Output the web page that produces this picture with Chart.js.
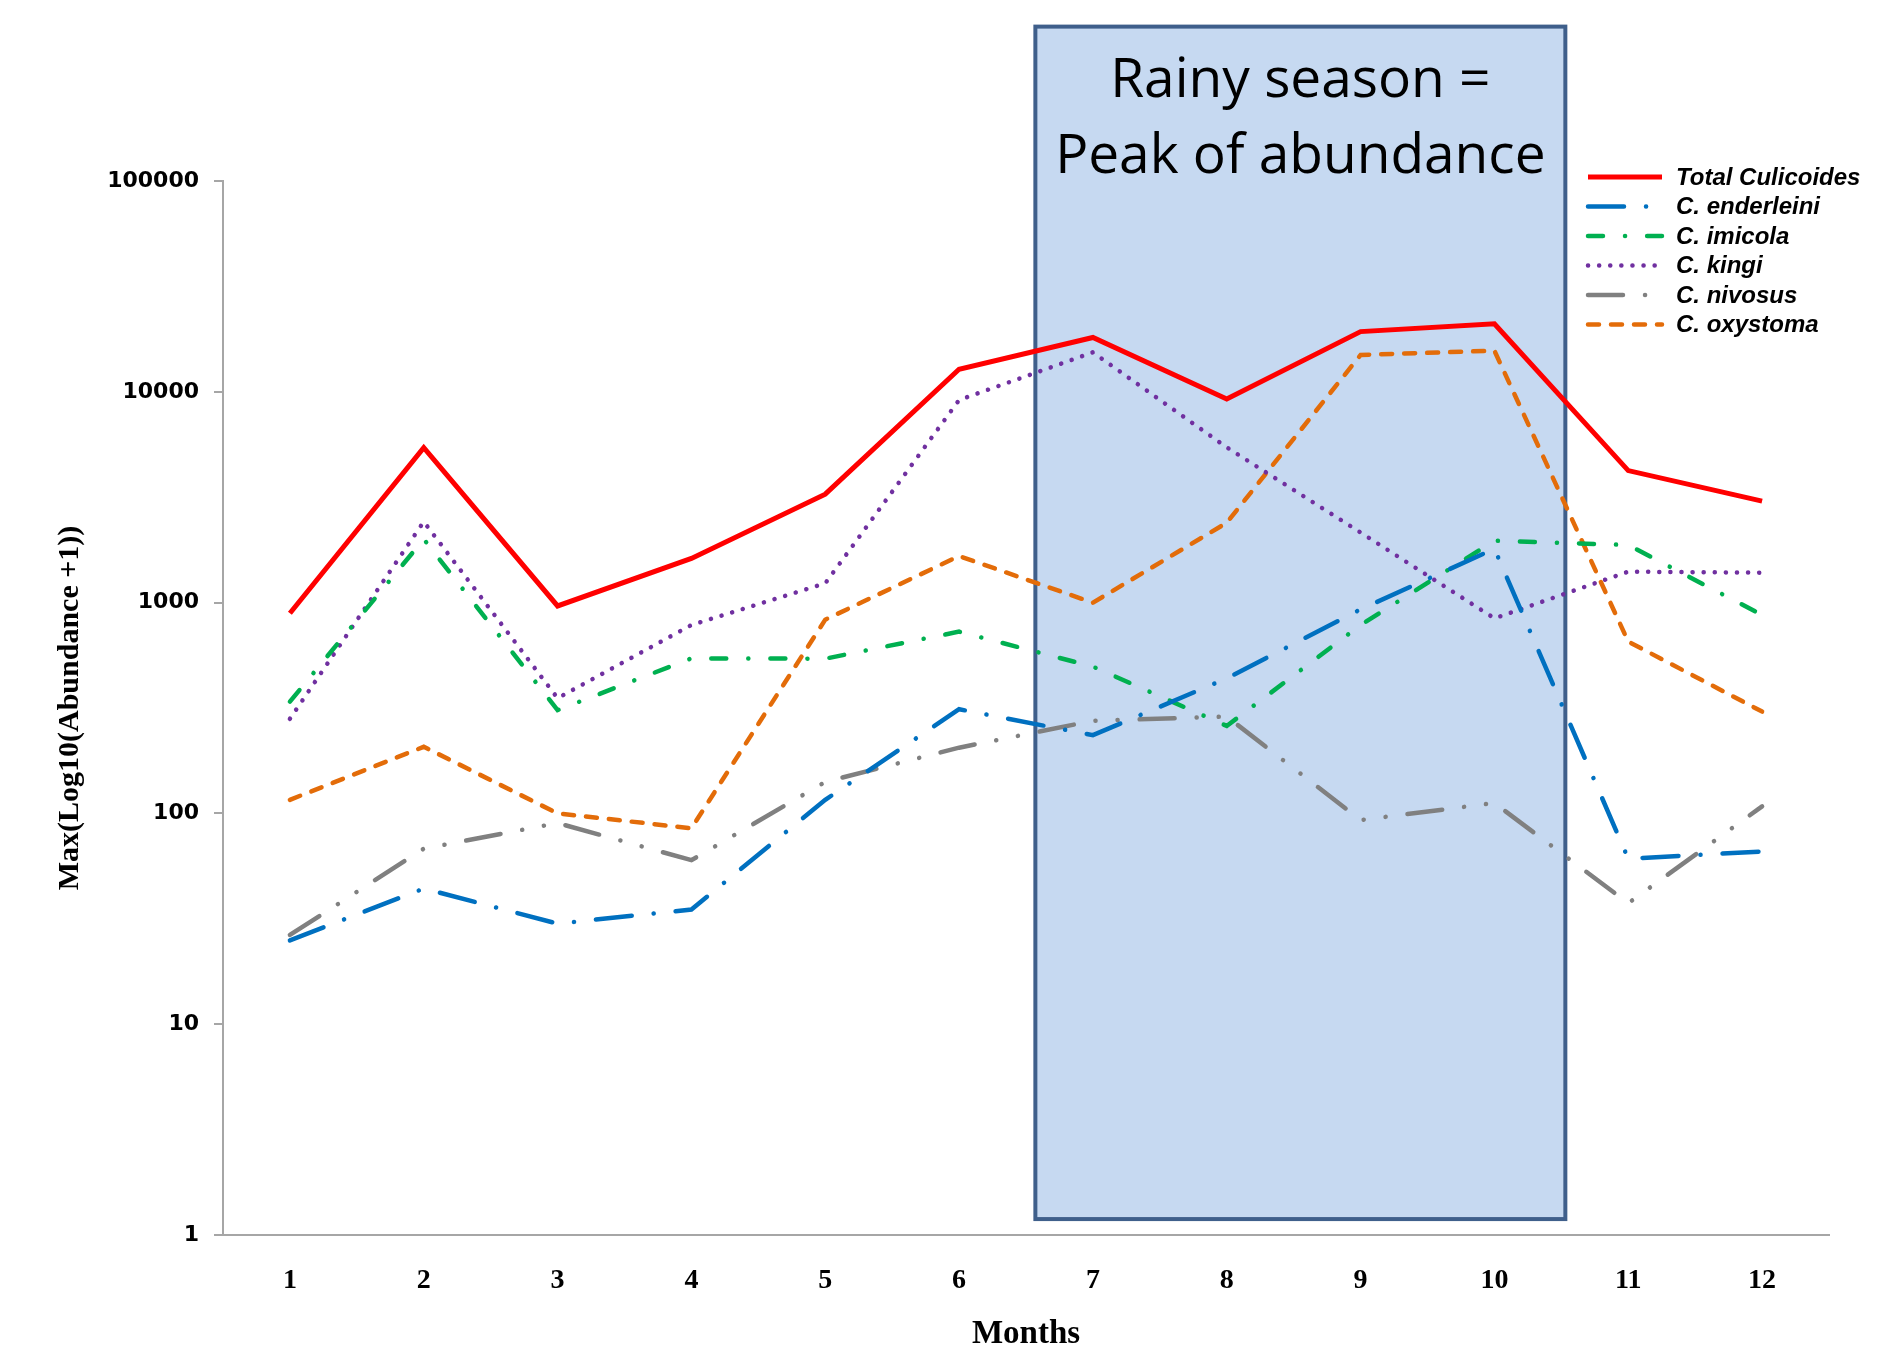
<!DOCTYPE html>
<html>
<head>
<meta charset="utf-8">
<script src="https://cdn.jsdelivr.net/npm/chart.js@4.4.1/dist/chart.umd.min.js"></script>
<style>
  html, body { margin: 0; padding: 0; background: #fff; }
  canvas { display: block; }
</style>
</head>
<body>
<canvas id="chart" width="1893" height="1350"></canvas>
<script>
/* Culicoides: max abundance per month (log scale) */
var months = ['1', '2', '3', '4', '5', '6', '7', '8', '9', '10', '11', '12'];

var totalCulicoides = [890, 5430, 964, 1620, 3270, 12800, 18100, 9240, 19300, 21000, 4230, 3030];
var enderleini      = [25, 44, 30, 35, 116, 312, 235, 437, 929, 1800, 61, 66];
var imicola         = [339, 2000, 309, 544, 542, 728, 497, 260, 783, 1966, 1876, 873];
var kingi           = [281, 2420, 352, 783, 1234, 9140, 15390, 5450, 2150, 842, 1402, 1387];
var nivosus         = [26.5, 68, 90, 60, 141, 205, 275, 288, 93, 112, 37.5, 108];
var oxystoma        = [116, 207, 100, 85, 830, 1663, 999, 2393, 14960, 15670, 653, 304];

var yTicks = [1, 10, 100, 1000, 10000, 100000];

var seriesNames = ['Total Culicoides', 'C. enderleini', 'C. imicola', 'C. kingi', 'C. nivosus', 'C. oxystoma'];

/* rainy-season box, in data units (month, abundance) */
var rainyFrom = 6.57, rainyTo = 10.53;
var rainyLow = 1.19, rainyHigh = 540000;
var rainyText = ['Rainy season =', 'Peak of abundance'];

var yTitle = 'Max(Log10(Abundance +1))';
var xTitle = 'Months';

function line(label, data, color, dash, width, cap) {
  return {
    label: label, data: data, borderColor: color, backgroundColor: color,
    borderWidth: width || 4.5, borderDash: dash || [], borderCapStyle: cap || 'round',
    borderJoinStyle: 'miter', pointRadius: 0, tension: 0, fill: false,
  };
}

var rainyBox = {
  id: 'rainyBox',
  beforeDatasetsDraw: function (chart) {
    var ctx = chart.ctx, xs = chart.scales.x, ys = chart.scales.y;
    var x0 = xs.getPixelForValue(rainyFrom - 1), x1 = xs.getPixelForValue(rainyTo - 1);
    var y0 = ys.getPixelForValue(rainyHigh), y1 = ys.getPixelForValue(rainyLow);
    ctx.save();
    ctx.fillStyle = '#c6d9f1';
    ctx.fillRect(x0, y0, x1 - x0, y1 - y0);
    ctx.strokeStyle = '#3f5f8b';
    ctx.lineWidth = 4;
    ctx.strokeRect(x0, y0, x1 - x0, y1 - y0);
    ctx.fillStyle = '#000';
    ctx.font = '55px "Open Sans"';
    ctx.textAlign = 'center';
    ctx.textBaseline = 'alphabetic';
    var cx = (x0 + x1) / 2;
    rainyText.forEach(function (t, i) {
      ctx.fillText(t, cx, y0 + 70 + i * 76);
    });
    ctx.restore();
  }
};

var extras = {
  id: 'extras',
  afterDraw: function (chart) {
    var ctx = chart.ctx, a = chart.chartArea;
    ctx.save();
    /* axis titles */
    ctx.fillStyle = '#000';
    ctx.textAlign = 'center';
    ctx.textBaseline = 'middle';
    ctx.font = 'bold 33px "Liberation Serif"';
    ctx.fillText(xTitle, (a.left + a.right) / 2, 1334);
    ctx.font = 'bold 30px "Liberation Serif"';
    ctx.save();
    ctx.translate(70, (a.top + a.bottom) / 2);
    ctx.rotate(-Math.PI / 2);
    ctx.fillText(yTitle, 0, 0);
    ctx.restore();

    /* legend */
    chart.data.datasets.forEach(function (ds, i) {
      var y = 177 + i * 29.5;
      ctx.save();
      ctx.strokeStyle = ds.borderColor;
      ctx.lineWidth = ds.borderWidth;
      ctx.lineCap = ds.borderCapStyle;
      ctx.setLineDash(ds.borderDash);
      ctx.beginPath();
      ctx.moveTo(1588, y);
      ctx.lineTo(1662, y);
      ctx.stroke();
      ctx.restore();
      ctx.fillStyle = '#000';
      ctx.font = 'italic bold 24px "Liberation Sans"';
      ctx.textAlign = 'left';
      ctx.textBaseline = 'middle';
      ctx.fillText(ds.label, 1676, y + 1);
    });
    ctx.restore();
  }
};

new Chart(document.getElementById('chart').getContext('2d'), {
  type: 'line',
  data: {
    labels: months,
    datasets: [
      line(seriesNames[0], totalCulicoides, '#ff0000', [], 5, 'butt'),
      line(seriesNames[1], enderleini, '#0070c0', [36, 22, 0.1, 22]),
      line(seriesNames[2], imicola, '#00b050', [15, 22, 0.1, 22]),
      line(seriesNames[3], kingi, '#7030a0', [0.1, 11]),
      line(seriesNames[4], nivosus, '#808080', [35, 22, 0.1, 22, 0.1, 22]),
      line(seriesNames[5], oxystoma, '#e36c09', [11, 12]),
    ],
  },
  options: {
    responsive: false, animation: false,
    layout: { padding: { top: 181, right: 64, left: 0, bottom: 0 } },
    plugins: { legend: { display: false }, tooltip: { enabled: false }, title: { display: false } },
    scales: {
      x: {
        type: 'category', offset: true,
        grid: { display: true, drawOnChartArea: false, drawTicks: false },
        border: { display: true, color: '#a6a6a6', width: 2 },
        ticks: { color: '#000', padding: 29, font: { family: 'Liberation Serif', weight: 'bold', size: 28 } },
        afterFit: function (s) { s.height = 115; },
      },
      y: {
        type: 'logarithmic', min: 1, max: 100000,
        grid: { display: true, drawOnChartArea: false, drawTicks: true, tickLength: 9, color: '#a6a6a6', lineWidth: 2 },
        border: { display: true, color: '#a6a6a6', width: 2 },
        afterBuildTicks: function (s) { s.ticks = yTicks.map(function (v) { return { value: v }; }); },
        ticks: {
          color: '#000', padding: 15, font: { family: 'DejaVu Sans', weight: 'bold', size: 22 },
          callback: function (v) { return String(v); },
        },
        afterFit: function (s) { s.width = 223; },
      },
    },
  },
  plugins: [rainyBox, extras],
});
</script>
</body>
</html>
